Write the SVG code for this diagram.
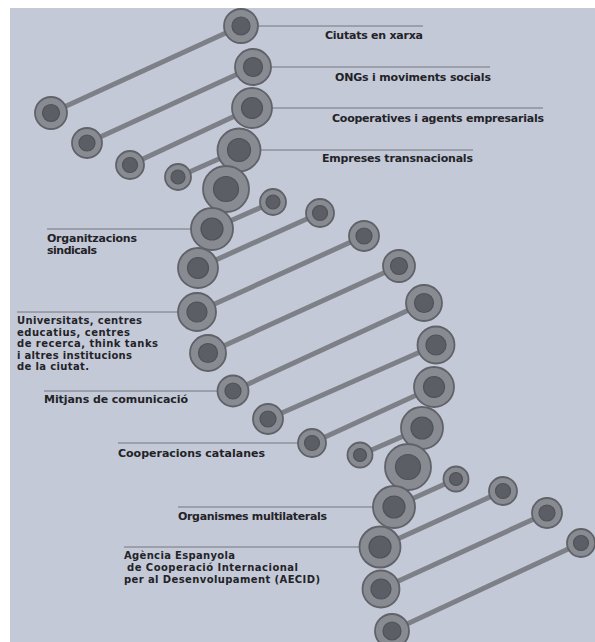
<svg xmlns="http://www.w3.org/2000/svg" width="595" height="642" viewBox="0 0 595 642">
<style>
.bg{fill:#c4c9d8}
.o{fill:#898b92;stroke:#606268;stroke-width:1.8}
.i{fill:#5c5e65;stroke:#505258;stroke-width:1.2}
.bar{stroke:#7e8087;stroke-width:5;fill:none}
.ll{stroke:#74767c;stroke-width:1;fill:none}
text{font-family:"DejaVu Sans","Liberation Sans",sans-serif;font-weight:bold;font-size:11px;fill:#232327}
.sm{font-size:10px}
</style>
<rect width="595" height="642" fill="#ffffff"/>
<rect class="bg" x="10" y="8" width="585" height="634"/>
<g id="connectors">
<line class="bar" x1="241" y1="26" x2="51" y2="113"/>
<line class="bar" x1="253" y1="67" x2="87" y2="143"/>
<line class="bar" x1="252" y1="108" x2="130" y2="165"/>
<line class="bar" x1="239" y1="150" x2="178" y2="177"/>
<line class="bar" x1="273" y1="202" x2="212" y2="229"/>
<line class="bar" x1="320" y1="213" x2="198" y2="268"/>
<line class="bar" x1="364" y1="236" x2="197" y2="312"/>
<line class="bar" x1="399" y1="266" x2="208" y2="353"/>
<line class="bar" x1="424" y1="303" x2="233" y2="391"/>
<line class="bar" x1="436" y1="345" x2="268" y2="419"/>
<line class="bar" x1="434" y1="387" x2="312" y2="443"/>
<line class="bar" x1="422" y1="428" x2="360" y2="455"/>
<line class="bar" x1="456" y1="479" x2="394" y2="507"/>
<line class="bar" x1="503" y1="491" x2="380" y2="547"/>
<line class="bar" x1="547" y1="513" x2="381" y2="589"/>
<line class="bar" x1="581" y1="543" x2="392" y2="631"/>
<line class="ll" x1="241" y1="26" x2="423" y2="26"/>
<line class="ll" x1="253" y1="67" x2="490" y2="67"/>
<line class="ll" x1="252" y1="108" x2="543" y2="108"/>
<line class="ll" x1="239" y1="150" x2="473" y2="150"/>
<line class="ll" x1="47" y1="229" x2="212" y2="229"/>
<line class="ll" x1="17" y1="312" x2="197" y2="312"/>
<line class="ll" x1="44" y1="391" x2="233" y2="391"/>
<line class="ll" x1="118" y1="443" x2="312" y2="443"/>
<line class="ll" x1="178" y1="507" x2="394" y2="507"/>
<line class="ll" x1="124" y1="547" x2="380" y2="547"/>
</g>
<g id="n1"><circle class="o" cx="241" cy="26" r="17"/><circle class="i" cx="241" cy="26" r="9"/></g>
<g id="n2"><circle class="o" cx="51" cy="113" r="16"/><circle class="i" cx="51" cy="113" r="8.5"/></g>
<g id="n3"><circle class="o" cx="253" cy="67" r="18"/><circle class="i" cx="253" cy="67" r="9.5"/></g>
<g id="n4"><circle class="o" cx="87" cy="143" r="15"/><circle class="i" cx="87" cy="143" r="8"/></g>
<g id="n5"><circle class="o" cx="252" cy="108" r="20"/><circle class="i" cx="252" cy="108" r="10.5"/></g>
<g id="n6"><circle class="o" cx="130" cy="165" r="14"/><circle class="i" cx="130" cy="165" r="7.5"/></g>
<g id="n7"><circle class="o" cx="239" cy="150" r="21.5"/><circle class="i" cx="239" cy="150" r="11.5"/></g>
<g id="n8"><circle class="o" cx="178" cy="177" r="13"/><circle class="i" cx="178" cy="177" r="7"/></g>
<g id="n9"><circle class="o" cx="226" cy="189" r="23"/><circle class="i" cx="226" cy="189" r="12.5"/></g>
<g id="n10"><circle class="o" cx="273" cy="202" r="13"/><circle class="i" cx="273" cy="202" r="7"/></g>
<g id="n11"><circle class="o" cx="212" cy="229" r="21"/><circle class="i" cx="212" cy="229" r="11"/></g>
<g id="n12"><circle class="o" cx="320" cy="213" r="14"/><circle class="i" cx="320" cy="213" r="7.5"/></g>
<g id="n13"><circle class="o" cx="198" cy="268" r="20"/><circle class="i" cx="198" cy="268" r="10.5"/></g>
<g id="n14"><circle class="o" cx="364" cy="236" r="15"/><circle class="i" cx="364" cy="236" r="8"/></g>
<g id="n15"><circle class="o" cx="197" cy="312" r="19"/><circle class="i" cx="197" cy="312" r="10"/></g>
<g id="n16"><circle class="o" cx="399" cy="266" r="16"/><circle class="i" cx="399" cy="266" r="8.5"/></g>
<g id="n17"><circle class="o" cx="208" cy="353" r="18"/><circle class="i" cx="208" cy="353" r="9.5"/></g>
<g id="n18"><circle class="o" cx="424" cy="303" r="18"/><circle class="i" cx="424" cy="303" r="9.5"/></g>
<g id="n19"><circle class="o" cx="233" cy="391" r="15.5"/><circle class="i" cx="233" cy="391" r="8"/></g>
<g id="n20"><circle class="o" cx="436" cy="345" r="18.5"/><circle class="i" cx="436" cy="345" r="10"/></g>
<g id="n21"><circle class="o" cx="268" cy="419" r="15"/><circle class="i" cx="268" cy="419" r="8"/></g>
<g id="n22"><circle class="o" cx="434" cy="387" r="20"/><circle class="i" cx="434" cy="387" r="10.5"/></g>
<g id="n23"><circle class="o" cx="312" cy="443" r="14"/><circle class="i" cx="312" cy="443" r="7.5"/></g>
<g id="n24"><circle class="o" cx="422" cy="428" r="21"/><circle class="i" cx="422" cy="428" r="11"/></g>
<g id="n25"><circle class="o" cx="360" cy="455" r="12.5"/><circle class="i" cx="360" cy="455" r="6.5"/></g>
<g id="n26"><circle class="o" cx="408" cy="467" r="23"/><circle class="i" cx="408" cy="467" r="12.5"/></g>
<g id="n27"><circle class="o" cx="456" cy="479" r="12.5"/><circle class="i" cx="456" cy="479" r="6.5"/></g>
<g id="n28"><circle class="o" cx="394" cy="507" r="21"/><circle class="i" cx="394" cy="507" r="11"/></g>
<g id="n29"><circle class="o" cx="503" cy="491" r="14"/><circle class="i" cx="503" cy="491" r="7.5"/></g>
<g id="n30"><circle class="o" cx="380" cy="547" r="20.5"/><circle class="i" cx="380" cy="547" r="11"/></g>
<g id="n31"><circle class="o" cx="547" cy="513" r="15"/><circle class="i" cx="547" cy="513" r="8"/></g>
<g id="n32"><circle class="o" cx="381" cy="589" r="18.5"/><circle class="i" cx="381" cy="589" r="10"/></g>
<g id="n33"><circle class="o" cx="581" cy="543" r="14"/><circle class="i" cx="581" cy="543" r="7.5"/></g>
<g id="n34"><circle class="o" cx="392" cy="631" r="17"/><circle class="i" cx="392" cy="631" r="9"/></g>
<g id="label-ciutats"><text x="325" y="39" textLength="98">Ciutats en xarxa</text></g>
<g id="label-ongs"><text x="335" y="81" textLength="156">ONGs i moviments socials</text></g>
<g id="label-cooperatives"><text x="332" y="122" textLength="212">Cooperatives i agents empresarials</text></g>
<g id="label-empreses"><text x="322" y="162" textLength="151">Empreses transnacionals</text></g>
<g id="label-organitzacions"><text x="47" y="241.5" textLength="90">Organitzacions</text><text x="47" y="253.5" textLength="50">sindicals</text></g>
<g id="label-universitats">
<text class="sm" x="17" y="324" textLength="125">Universitats, centres</text>
<text class="sm" x="17" y="335.5" textLength="113">educatius, centres</text>
<text class="sm" x="17" y="347" textLength="141">de recerca, think tanks</text>
<text class="sm" x="17" y="358.5" textLength="115">i altres institucions</text>
<text class="sm" x="17" y="370" textLength="72">de la ciutat.</text>
</g>
<g id="label-mitjans"><text x="44" y="403" textLength="144">Mitjans de comunicació</text></g>
<g id="label-cooperacions"><text x="118" y="456.5" textLength="147">Cooperacions catalanes</text></g>
<g id="label-organismes"><text x="178" y="520" textLength="149">Organismes multilaterals</text></g>
<g id="label-aecid">
<text class="sm" x="124" y="559" textLength="111">Agència Espanyola</text>
<text class="sm" x="127" y="570.5" textLength="171">de Cooperació Internacional</text>
<text class="sm" x="124" y="583" textLength="196">per al Desenvolupament (AECID)</text>
</g>
</svg>
